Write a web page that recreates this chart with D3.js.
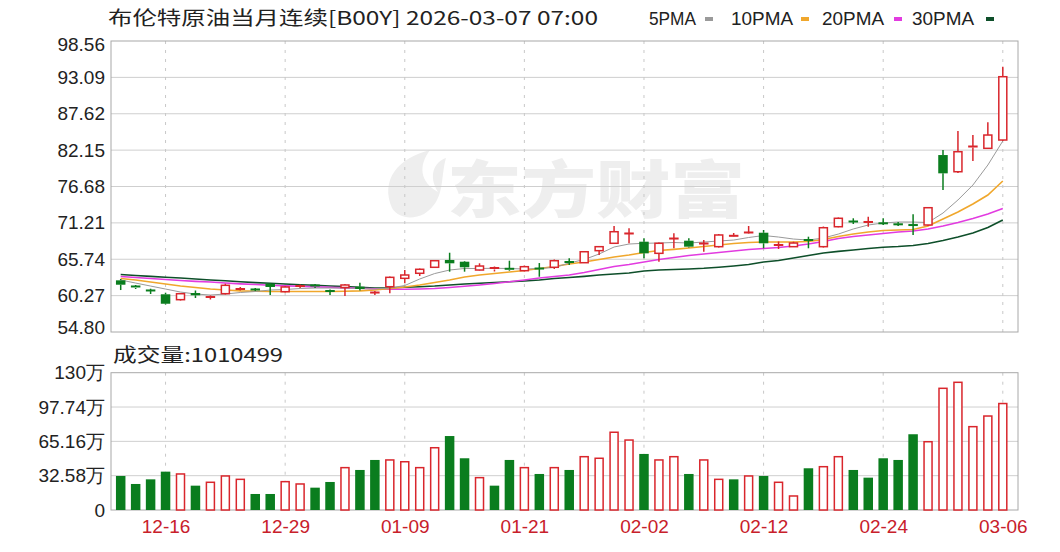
<!DOCTYPE html>
<html><head><meta charset="utf-8">
<script src="https://cdn.jsdelivr.net/npm/d3@7/dist/d3.min.js"></script>
<style>body{margin:0;background:#fff;} svg{display:block;}</style>
</head><body><svg id="c" width="1060" height="552"></svg>
<script>
// ---------- data ----------
const dates = ["12-11","12-12","12-15","12-16","12-17","12-18","12-19","12-22","12-23","12-24",
"12-26","12-29","12-30","12-31","01-02","01-05","01-06","01-07","01-08","01-09",
"01-12","01-13","01-14","01-15","01-16","01-19","01-20","01-21","01-22","01-23",
"01-26","01-27","01-28","01-29","01-30","02-02","02-03","02-04","02-05","02-06",
"02-09","02-10","02-11","02-12","02-13","02-16","02-17","02-18","02-19","02-20",
"02-23","02-24","02-25","02-26","02-27","03-02","03-03","03-04","03-05","03-06"];
const openP  = [62.57,61.72,61.12,60.47,59.66,60.66,59.91,60.56,61.19,61.27,62.06,60.86,61.57,61.87,61.04,61.49,61.61,60.66,61.61,62.87,63.63,64.53,65.63,65.37,64.12,64.20,64.38,64.02,64.42,64.53,65.40,65.22,67.03,68.14,69.54,68.38,66.63,68.78,68.53,68.03,67.63,69.24,69.69,69.73,67.81,67.63,68.71,67.63,70.63,71.49,71.31,71.22,71.07,70.96,70.89,81.41,78.90,82.54,82.42,83.67];
const highP  = [62.77,61.87,61.31,60.71,60.66,61.04,60.29,62.06,61.57,61.42,62.17,61.72,61.94,62.02,61.19,62.02,62.21,60.96,63.14,64.12,64.35,65.63,66.72,65.48,65.13,64.65,65.52,64.80,65.17,65.70,65.88,66.98,67.73,70.74,70.39,68.89,68.26,69.64,68.89,68.63,69.54,69.69,70.74,70.14,68.41,68.38,69.13,70.66,72.02,71.90,72.14,71.90,71.34,72.50,73.60,82.17,85.03,84.42,86.33,94.69];
const lowP   = [61.11,61.27,60.51,58.94,59.53,59.91,59.69,60.44,61.04,60.96,60.36,60.74,61.42,61.42,60.36,60.21,61.04,60.36,60.62,62.12,63.22,64.42,63.87,63.87,64.05,63.90,63.97,63.90,63.11,64.27,64.87,65.17,66.38,68.03,68.14,65.88,65.37,67.39,67.50,66.87,67.50,69.14,69.61,67.39,67.28,67.58,67.39,67.50,70.54,71.04,70.63,70.89,70.74,69.39,70.74,76.15,78.71,80.51,82.32,83.52];
const closeP = [61.91,61.42,60.96,59.05,60.56,60.32,60.14,61.82,61.34,61.12,61.57,61.57,61.79,61.57,60.89,61.87,61.27,60.81,63.02,63.37,64.23,65.52,65.13,64.53,64.72,64.50,64.08,64.62,64.27,65.52,65.25,66.87,67.63,69.88,69.69,66.63,68.14,68.93,67.63,68.18,69.39,69.34,69.84,68.14,67.96,68.18,68.56,70.48,71.90,71.34,71.42,71.07,70.92,70.81,73.49,78.66,81.91,82.77,84.42,93.19];
const volume = [323000,247000,291000,364000,342000,231000,263000,323000,291000,152000,152000,269000,247000,212000,266000,402000,380000,475000,475000,458000,402000,591000,702000,491000,307000,231000,475000,402000,342000,402000,380000,506000,491000,738000,664000,532000,475000,506000,342000,475000,291000,291000,323000,323000,263000,133000,396000,411000,506000,380000,307000,491000,475000,719000,648000,1155000,1212000,791000,892000,1010499];
// volume bar direction: 1 = red (hollow), 0 = green (filled)
const volumeUp = [0,0,0,0,1,0,1,1,1,0,0,1,1,0,0,1,0,0,1,1,1,1,0,0,1,0,0,1,0,1,0,1,1,1,1,0,1,1,0,1,1,0,1,0,1,1,0,1,1,0,0,0,0,0,1,1,1,1,1,1];
const ma5  = [62.62,62.16,61.71,61.26,60.81,60.51,60.36,60.51,60.74,60.89,61.11,61.19,61.34,61.41,61.41,61.41,61.34,61.26,61.41,61.79,62.77,63.59,64.12,64.35,64.35,64.38,64.35,64.27,64.35,64.50,65.17,65.70,66.53,67.58,68.03,68.14,68.18,68.26,68.18,68.33,68.48,68.63,69.01,69.31,69.08,68.78,68.63,68.93,69.53,70.29,70.89,71.19,71.34,71.34,71.26,72.69,74.65,76.90,79.91,83.52];
const ma10 = [62.84,62.62,62.32,62.01,61.71,61.49,61.26,61.11,60.99,60.92,60.89,60.89,60.89,60.89,60.89,60.92,60.99,61.11,61.34,61.56,61.86,62.24,62.62,63.07,63.37,63.59,63.82,64.04,64.35,64.65,65.02,65.32,65.70,66.08,66.38,66.75,67.05,67.23,67.43,67.65,67.88,68.11,68.26,68.33,68.33,68.33,68.41,68.71,69.16,69.53,69.83,70.06,70.14,70.21,70.74,71.79,72.84,74.05,75.40,77.51];
const ma20 = [63.14,62.99,62.84,62.69,62.54,62.42,62.32,62.16,62.04,61.94,61.83,61.74,61.67,61.59,61.52,61.44,61.37,61.29,61.23,61.22,61.26,61.34,61.49,61.67,61.86,62.09,62.35,62.62,62.92,63.14,63.37,63.74,64.20,64.65,64.95,65.32,65.70,66.00,66.30,66.53,66.75,66.98,67.20,67.35,67.50,67.73,68.03,68.41,68.86,69.16,69.38,69.61,69.83,69.98,70.29,70.74,71.26,71.87,72.54,73.37];
const ma30 = [63.44,63.29,63.17,63.04,62.92,62.77,62.62,62.50,62.35,62.23,62.12,62.01,61.91,61.82,61.71,61.62,61.53,61.41,61.44,61.52,61.61,61.71,61.86,62.01,62.13,62.24,62.36,62.47,62.62,62.84,62.99,63.17,63.37,63.52,63.67,63.97,64.12,64.20,64.27,64.38,64.54,64.72,64.95,65.32,65.55,65.92,66.30,66.68,66.93,67.13,67.35,67.55,67.65,67.80,68.11,68.56,69.08,69.68,70.51,71.64];
const priceTicks = [54.80,60.27,65.74,71.21,76.68,82.15,87.62,93.09,98.56];
const volTicks = [0,325800,651600,977400,1303200];
const volTickLabels = ["0","32.58万","65.16万","97.74万","130万"];
const xTickLabels = ["12-16","12-29","01-09","01-21","02-02","02-12","02-24","03-06"];
const maNames = ["5PMA","10PMA","20PMA","30PMA"];
const titleText = "布伦特原油当月连续[B00Y] 2026-03-07 07:00";
const volTitle = "成交量:1010499";
const watermark = "东方财富";

// ---------- drawing ----------
const svg = d3.select("#c");
const RED = "#d9262c", GREEN = "#0a7d1e";
const maColors = ["#9a9a9a","#f0a72c","#e23be0","#0e4f2a"];
const pL = 111, pR = 1018, pT = 41, pB = 332, vT = 372.7, vB = 510;
const x = d3.scalePoint().domain(dates).range([120.7, 1002.8]);
const yP = d3.scaleLinear().domain([54.80, 98.56]).range([pB, pT]);
const yV = d3.scaleLinear().domain([0, 1303200]).range([vB, vT]);
const bw = 9.5;
const numFont = "'Liberation Sans', Arial, sans-serif";
const cjkFont = "'Noto Sans CJK SC', 'Liberation Sans', sans-serif";

// watermark
const wm = svg.append("g");
wm.append("path")
  .attr("d", "M392,208 C380,180 398,158 430,150 C418,166 420,182 438,192 C428,176 434,162 446,158 C440,178 446,200 424,214 C412,220 398,218 392,208 Z")
  .attr("fill", "#eeeeee");
wm.append("text").attr("x", 447).attr("y", 213).text(watermark)
  .attr("font-family", cjkFont).attr("font-weight", 900).attr("font-size", 62)
  .attr("textLength", 298).attr("lengthAdjust", "spacingAndGlyphs").attr("fill", "#eeeeee");

// grids
const grid = svg.append("g");
grid.selectAll("line.hp").data(priceTicks.slice(1, -1)).join("line")
  .attr("x1", pL).attr("x2", pR).attr("y1", d => yP(d)).attr("y2", d => yP(d))
  .attr("stroke", "#cfcfcf").attr("stroke-width", 1);
grid.selectAll("line.hv").data(volTicks.slice(1, -1)).join("line")
  .attr("x1", pL).attr("x2", pR).attr("y1", d => yV(d)).attr("y2", d => yV(d))
  .attr("stroke", "#cfcfcf").attr("stroke-width", 1);
xTickLabels.forEach(t => {
  [[pT, pB], [vT, vB]].forEach(([a, b]) => {
    grid.append("line").attr("x1", x(t)).attr("x2", x(t)).attr("y1", a).attr("y2", b)
      .attr("stroke", "#c8c8c8").attr("stroke-dasharray", "3,6");
  });
});
// frames
svg.append("rect").attr("x", pL).attr("y", pT).attr("width", pR - pL).attr("height", pB - pT)
  .attr("fill", "none").attr("stroke", "#a8a8a8");
svg.append("rect").attr("x", pL).attr("y", vT).attr("width", pR - pL).attr("height", vB - vT)
  .attr("fill", "none").attr("stroke", "#a8a8a8");

// MA lines
const maData = [ma5, ma10, ma20, ma30];
[3, 2, 1, 0].forEach(k => {
  const line = d3.line().x((d, i) => x(dates[i])).y(d => yP(d));
  svg.append("path").datum(maData[k]).attr("d", line).attr("fill", "none")
    .attr("stroke", maColors[k]).attr("stroke-width", k === 0 ? 1 : 1.6);
});

// candles
const candles = dates.map((d, i) => ({d, o: openP[i], h: highP[i], l: lowP[i], c: closeP[i], v: volume[i], vu: volumeUp[i]}));
const cg = svg.append("g");
candles.forEach(k => {
  const up = k.c >= k.o;
  const col = up ? RED : GREEN;
  const cx = x(k.d);
  const top = yP(Math.max(k.o, k.c)), bot = yP(Math.min(k.o, k.c));
  const hgt = Math.max(bot - top, 1);
  cg.append("line").attr("x1", cx).attr("x2", cx).attr("y1", yP(k.h)).attr("y2", top)
    .attr("stroke", col).attr("stroke-width", 1.5);
  cg.append("line").attr("x1", cx).attr("x2", cx).attr("y1", top + hgt).attr("y2", yP(k.l))
    .attr("stroke", col).attr("stroke-width", 1.5);
  if (up && hgt > 2) {
    cg.append("rect").attr("x", cx - bw / 2 + 0.75).attr("y", top).attr("width", bw - 1.5).attr("height", hgt)
      .attr("fill", "#fff").attr("stroke", col).attr("stroke-width", 1.5);
  } else {
    cg.append("rect").attr("x", cx - bw / 2).attr("y", top - (hgt < 2 ? 0.5 : 0)).attr("width", bw).attr("height", Math.max(hgt, 2))
      .attr("fill", col);
  }
});

// volume bars
const vg = svg.append("g");
candles.forEach(k => {
  const cx = x(k.d);
  if (k.vu) {
    vg.append("rect").attr("x", cx - bw / 2 + 0.75).attr("y", yV(k.v)).attr("width", bw - 1.5).attr("height", vB - yV(k.v))
      .attr("fill", "#fff").attr("stroke", RED).attr("stroke-width", 1.5);
  } else {
    vg.append("rect").attr("x", cx - bw / 2).attr("y", yV(k.v)).attr("width", bw).attr("height", vB - yV(k.v))
      .attr("fill", GREEN);
  }
});

// axes
const ax1 = svg.append("g").attr("transform", `translate(105,0)`)
  .call(d3.axisLeft(yP).tickValues(priceTicks).tickFormat(d3.format(".2f")).tickSize(0).tickPadding(0));
ax1.select(".domain").remove();
ax1.selectAll("text").attr("font-family", numFont).attr("font-size", 19).attr("fill", "#222");
ax1.selectAll(".tick").filter(d => d === 98.56).select("text").attr("dy", "0.5em");
ax1.selectAll(".tick").filter(d => d === 54.80).select("text").attr("dy", "0.1em");

const ax2 = svg.append("g").attr("transform", `translate(105,0)`)
  .call(d3.axisLeft(yV).tickValues(volTicks).tickFormat((d, i) => volTickLabels[i]).tickSize(0).tickPadding(0));
ax2.select(".domain").remove();
ax2.selectAll("text").attr("font-family", numFont).attr("font-size", 19).attr("fill", "#222");

const ax3 = svg.append("g").attr("transform", `translate(0,${vB + 6})`)
  .call(d3.axisBottom(x).tickValues(xTickLabels).tickSize(0).tickPadding(4));
ax3.select(".domain").remove();
ax3.selectAll("text").attr("font-family", numFont).attr("font-size", 19).attr("fill", "#c8202a");

// title & legend
svg.append("text").attr("x", 108).attr("y", 25).text(titleText)
  .attr("font-family", cjkFont).attr("font-size", 19).attr("fill", "#222")
  .attr("textLength", 490).attr("lengthAdjust", "spacingAndGlyphs");
const legX = [649, 731, 822, 912], legW = [47, 62, 62, 62], markX = [705, 801, 894, 986];
maNames.forEach((n, i) => {
  svg.append("text").attr("x", legX[i]).attr("y", 25).text(n)
    .attr("font-family", numFont).attr("font-size", 19).attr("fill", "#222")
    .attr("textLength", legW[i]).attr("lengthAdjust", "spacingAndGlyphs");
  svg.append("rect").attr("x", markX[i]).attr("y", 17).attr("width", 8).attr("height", 4)
    .attr("fill", maColors[i]);
});
svg.append("text").attr("x", 113).attr("y", 362).text(volTitle)
  .attr("font-family", cjkFont).attr("font-size", 19).attr("fill", "#222")
  .attr("textLength", 170).attr("lengthAdjust", "spacingAndGlyphs");
</script></body></html>
